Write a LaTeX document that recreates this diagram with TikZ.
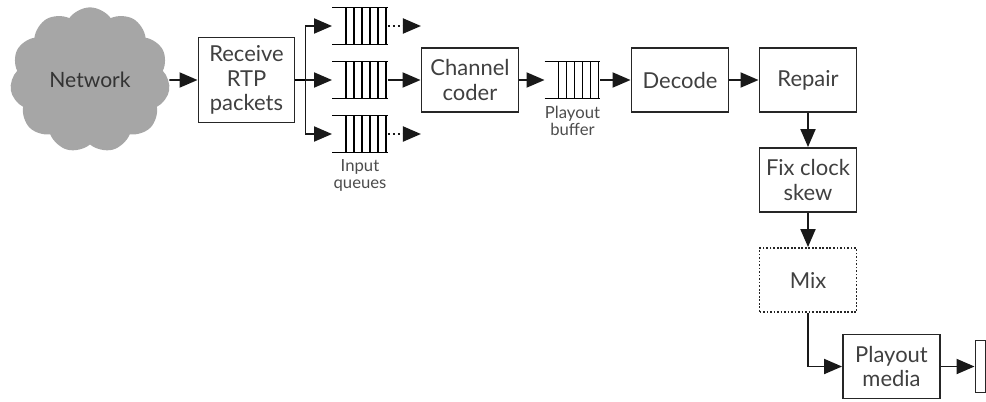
\documentclass[tikz,border=0pt]{standalone}
\usepackage{fontspec}
\setmainfont{Lato}
\usetikzlibrary{positioning,shapes.symbols,arrows.meta}

\begin{document}
\begin{tikzpicture}[on grid, >={Triangle[length=3.6mm,width=3mm]}, line width=1.1pt,
    block/.style={draw=black!85, minimum width=1.94cm, minimum height=1.28cm, align=center,
                  text=black!75, font=\fontsize{12.5}{14}\selectfont},
    queue/.style={minimum width=1.08cm, minimum height=0.7cm, inner sep=0pt},
    lbl/.style={align=center, text=black!70, font=\fontsize{9.5}{10}\selectfont},
    flow/.style={->, draw=black!90},
    maybe/.style={->, draw=black!90, dash pattern=on 1.2pt off 1.6pt}]
  \useasboundingbox (0,0) rectangle (19.72,-8.02);

  \node[cloud, cloud puffs=11, cloud puff arc=110, fill=black!35, draw=none,
        minimum width=3.2cm, minimum height=2.6cm, text=black!80,
        font=\fontsize{12}{13.5}\selectfont] (net) at (1.8,-1.6) {Network};
  \node[block, minimum width=1.92cm, minimum height=1.7cm] (recv) [right=3.13cm of net] {Receive\\RTP\\packets};
  \coordinate[right=0.2cm of recv.east] (split);

  % input queues
  \node[queue] (q2) [right=2.27cm of recv] {};
  \node[queue] (q1) [above=1.08cm of q2] {};
  \node[queue] (q3) [below=1.08cm of q2] {};
  \node[lbl] (qlbl) [below=0.83cm of q3] {Input\\queues};
  \coordinate[right=0.66cm of q1.east] (q1out);
  \coordinate[right=0.66cm of q3.east] (q3out);

  \node[block] (cc) [right=2.2cm of q2] {Channel\\coder};
  \node[queue] (buf) [right=2.05cm of cc] {};
  \node[lbl] (blbl) [below=0.82cm of buf] {Playout\\buffer};
  \node[block] (dec) [right=2.15cm of buf] {Decode};
  \node[block] (rep) [right=2.56cm of dec] {Repair};
  \node[block] (fix) [below=2cm of rep] {Fix clock\\skew};
  \node[block, dash pattern=on 1pt off 1pt] (mix) [below=2cm of fix] {Mix};
  \node[block] (pm) [below right=1.73cm and 1.67cm of mix] {Playout\\media};
  \node[draw=black!85, inner sep=0pt, minimum width=0.2cm, minimum height=1.04cm] (dev) [right=1.78cm of pm] {};

  % queue slots
  \foreach \q in {q1,q2,q3,buf} {
    \draw[line width=1pt] (\q.north west) -- (\q.north east)
                          (\q.south west) -- (\q.south east);
    \foreach \i in {0,...,5}
      \draw[line width=1pt] ([xshift=2.8mm+\i*1.6mm]\q.north west) -- ([xshift=2.8mm+\i*1.6mm]\q.south west);
  }

  \draw[flow] (net) -- (recv);
  \draw (recv) -- (split);
  \draw[flow] (split) |- (q1);
  \draw[flow] (split) -- (q2);
  \draw[flow] (split) |- (q3);
  \draw[maybe] (q1) -- (q1out);
  \draw[maybe] (q3) -- (q3out);
  \draw[flow] (q2) -- (cc);
  \draw[flow] (cc) -- (buf);
  \draw[flow] (buf) -- (dec);
  \draw[flow] (dec) -- (rep);
  \draw[flow] (rep) -- (fix);
  \draw[flow] (fix) -- (mix);
  \draw[flow] (mix) |- (pm);
  \draw[flow] (pm) -- (dev);
\end{tikzpicture}
\end{document}
